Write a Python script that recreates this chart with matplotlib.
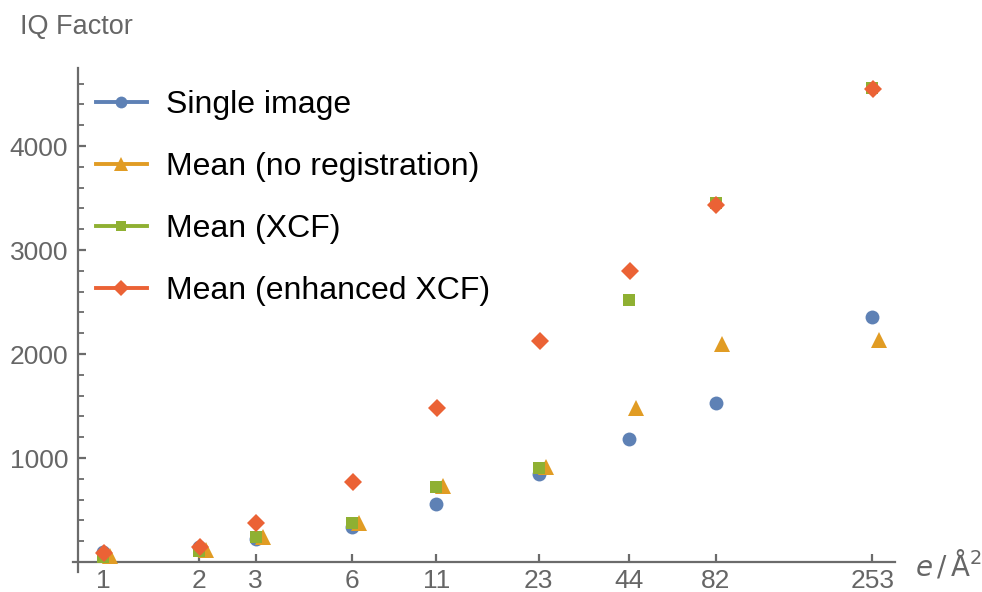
import matplotlib
matplotlib.use("Agg")
import matplotlib.pyplot as plt
import matplotlib.transforms as mtransforms
from matplotlib.ticker import FixedLocator, MultipleLocator, NullLocator

plt.rcParams['font.family'] = ['Liberation Sans', 'DejaVu Sans']

# electron dose per frame (e/Å²)
dose = [1, 2, 3, 6, 11, 23, 44, 82, 253]
dose_labels = ["1", "2", "3", "6", "11", "23", "44", "82", "253"]

single_image = [96, 144, 221, 337, 558, 846, 1183, 1529, 2356]
mean_no_reg = [55, 115, 240, 375, 731, 913, 1481, 2096, 2135]
mean_xcf = [50, 106, 240, 375, 721, 904, 2519, 3452, 4558]
mean_enh_xcf = [87, 144, 375, 769, 1481, 2125, 2798, 3433, 4548]

series_labels = ["Single image", "Mean (no registration)", "Mean (XCF)",
                 "Mean (enhanced XCF)"]
colors = ["#5E81B5", "#E19C24", "#8FB032", "#EB6235"]

fig = plt.figure(figsize=(9.82, 5.92), dpi=100)
ax = fig.add_axes([0.0743, 0.034, 0.837, 0.851])

axis_col = "#6b6b6b"
text_col = "#666666"

ax.set_xscale("log")
ax.set_xlim(0.806, 298)
ax.set_ylim(-95, 4750)

styles = [("o", 10), ("^", 11.5), ("s", 8.6), ("D", 9.0)]
values = [single_image, mean_no_reg, mean_xcf, mean_enh_xcf]
shifts = [0, 5, 0, 0.5]
handles = []
for (mk, ms), vals, col, lab, dx in zip(styles, values, colors, series_labels, shifts):
    tr = ax.transData + mtransforms.ScaledTranslation(dx / 72, 0, fig.dpi_scale_trans)
    ax.plot(dose, vals, linestyle="none", marker=mk, markersize=ms,
            color=col, markeredgewidth=0, transform=tr, zorder=3)
    h, = ax.plot([], [], color=col, linewidth=2.8, marker=mk,
                 markersize=ms * 0.85, markeredgewidth=0, label=lab)
    handles.append(h)

leg = ax.legend(handles=handles, loc="upper left", frameon=False,
                fontsize=23, handlelength=1.6, handletextpad=0.6,
                labelspacing=1.0, borderaxespad=0,
                bbox_to_anchor=(0.012, 0.982))
for t in leg.get_texts():
    t.set_color("black")

# Axes drawn through the origin
for s in ["top", "right"]:
    ax.spines[s].set_visible(False)
ax.spines["bottom"].set_position(("data", 0))
ax.spines["left"].set_position(("data", 0.835))
for s in ["bottom", "left"]:
    ax.spines[s].set_color(axis_col)
    ax.spines[s].set_linewidth(1.6)

ax.xaxis.set_major_locator(FixedLocator(dose))
ax.set_xticklabels(dose_labels)
ax.xaxis.set_minor_locator(NullLocator())
ax.yaxis.set_major_locator(FixedLocator([1000, 2000, 3000, 4000]))
ax.yaxis.set_minor_locator(MultipleLocator(200))

ax.tick_params(axis="both", which="major", direction="in", length=6,
               width=1.6, color=axis_col, labelcolor=text_col, labelsize=19)
ax.tick_params(axis="y", which="minor", direction="in", length=4,
               width=1.3, color=axis_col)
ax.tick_params(axis="x", which="major", pad=5)
ax.tick_params(axis="y", which="major", pad=7)

fig.text(0.020, 0.955, "IQ Factor", color=text_col, fontsize=19.5,
         ha="left", va="center")
fig.text(0.932, 0.046, r"$e\,/\,\mathrm{\AA}^{2}$", color=text_col,
         fontsize=20, ha="left", va="center")

fig.savefig("out.png", dpi=100)
